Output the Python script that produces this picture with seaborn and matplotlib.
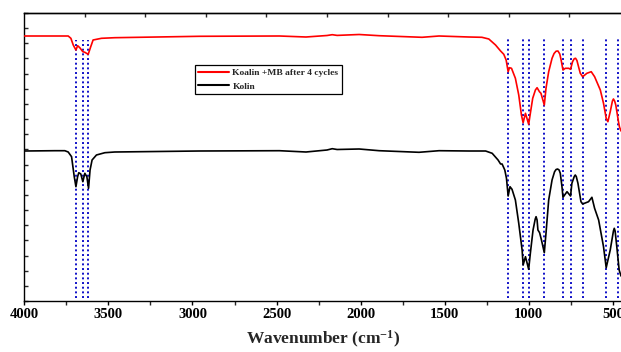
import numpy as np
import pandas as pd
import matplotlib
matplotlib.use("Agg")
import matplotlib.pyplot as plt
import seaborn as sns
from matplotlib.ticker import MultipleLocator, FixedLocator, NullFormatter

# ---------------- data ----------------
series_names = ["Koalin +MB after 4 cycles", "Kolin"]
series_colors = ["#FF0000", "#000000"]

# Kaolin after MB adsorption, 4 cycles (wavenumber cm-1, transmittance a.u.)
wn_mb = [4000, 3818, 3739, 3723, 3709, 3693, 3683, 3670, 3652, 3640, 3620,
         3605, 3591, 3541, 3462, 2958, 2483, 2325, 2200, 2169, 2140, 2009, 1890,
         1635, 1534, 1357, 1279, 1238, 1198, 1168, 1149, 1135, 1123, 1115,
         1103, 1080, 1060, 1044, 1034, 1020, 1001, 991, 977, 961, 951, 937,
         928, 908, 898, 882, 862, 850, 838, 827, 816, 808, 797, 783, 763, 752, 740,
         730, 722, 714, 704, 694, 680, 655, 629, 609, 575, 556, 540, 530, 516, 503, 497,
         490, 483, 467, 461, 452]
t_mb = [265, 265, 265, 262.7, 256, 251, 255.3, 253.3, 249.3, 248.7, 246.7,
        254.3, 261, 262.7, 263.3, 264.7, 265, 264, 265.5, 266.3, 265.6, 266.5, 265.3,
        263.7, 265, 264, 263.7, 262, 256, 250, 246.7, 241, 229.3, 233.3,
        232.7, 222.7, 206, 186, 178.3, 187.7, 176.7, 187.7, 202.7, 211, 213.3, 209.3,
        207.7, 196, 212.7, 229.3, 242.7, 247.5, 249.8, 250, 247, 241, 231, 232.7, 232.7, 231.7, 239.3,
        242.3, 242.7, 240.5, 234, 227.7, 224.3, 227.7, 229.3, 224.3, 211, 197.7, 182.7, 179.3, 189.3, 200, 202,
        200, 196, 179.3, 174, 170]

# Raw kaolin
wn_kaolin = [4000, 3818, 3759, 3739, 3719, 3703, 3693, 3683, 3676, 3664, 3652,
             3640, 3628, 3618, 3609, 3597, 3571, 3521, 3462, 2958, 2483, 2325,
             2200, 2169, 2140, 2009, 1890, 1653, 1534, 1357, 1257, 1218, 1183, 1168, 1159,
             1143, 1133, 1123, 1112, 1100, 1080, 1060, 1040, 1034, 1020, 1001,
             991, 975, 962, 957, 951, 946, 936, 925, 908, 898, 882, 862, 847, 838, 829, 820, 813,
             803, 797, 773, 752, 744, 730, 724, 718, 708, 690, 680, 645, 625, 609, 585,
             556, 540, 516, 497, 492, 487, 477, 463, 452]
t_kaolin = [150, 150.3, 150.3, 149, 144.3, 124.3, 114.3, 124.3, 128.3, 127, 119.3,
            127.7, 124.3, 112.7, 131, 141, 146, 148.3, 149, 150, 150.3, 149,
            151, 152.3, 151.5, 152, 150.3, 148.7, 150.3, 150, 150, 147.7, 141, 137, 137,
            131, 122.7, 105, 114.3, 111.7, 101, 77.7, 51, 36, 44.3, 31.7,
            47.7, 71, 82, 84.3, 81, 71, 68.3, 61, 48.3, 67.7, 101, 121, 129.3, 131.5, 132, 131, 127.7,
            114.3, 103.7, 109.3, 105, 117.7, 124.5, 126, 124.5, 117.7, 99.3, 97, 99.3, 103.7, 92.7, 81,
            54.3, 33.3, 51, 70, 72.7, 70, 54.3, 31, 25]

# Assigned band positions (dotted guide lines), cm-1
band_positions = [3693, 3652, 3620, 1123, 1034, 1001, 908, 797, 752, 680, 540, 467]

x_ticks = [4000, 3500, 3000, 2500, 2000, 1500, 1000, 500]

# ---------------- style ----------------
sns.set_theme(style="ticks")
plt.rcParams['font.family'] = ['Liberation Serif', 'DejaVu Serif']
plt.rcParams['font.weight'] = 'bold'
plt.rcParams['mathtext.fontset'] = 'custom'
plt.rcParams['mathtext.rm'] = 'Liberation Serif:bold'
plt.rcParams['mathtext.bf'] = 'Liberation Serif:bold'
plt.rcParams['mathtext.default'] = 'bf'

df = pd.concat([
    pd.DataFrame({"wn": wn_mb, "t": t_mb, "sample": series_names[0]}),
    pd.DataFrame({"wn": wn_kaolin, "t": t_kaolin, "sample": series_names[1]}),
])

fig = plt.figure(figsize=(6.21, 3.52), dpi=100)
ax = fig.add_axes([24.3 / 621, 1 - 301 / 352, 1 - 24.3 / 621, (301 - 13) / 352])

for b in band_positions:
    ax.vlines(b, 3, 261 if b > 2000 else 263, colors="#1010C8",
              linestyles=(0, (1, 1.4)), linewidth=1.4, zorder=1)

sns.lineplot(data=df, x="wn", y="t", hue="sample",
             palette=dict(zip(series_names, series_colors)),
             estimator=None, linewidth=1.2, ax=ax, zorder=3, legend=True)

ax.set_xlim(4000, 452)
ax.set_ylim(0, 288)

ax.xaxis.set_major_locator(FixedLocator(x_ticks))
ax.xaxis.set_minor_locator(MultipleLocator(250))
ax.set_xticklabels([str(v) for v in x_ticks])
ax.yaxis.set_major_locator(FixedLocator(np.linspace(0, 288, 20)))
ax.yaxis.set_major_formatter(NullFormatter())
ax.set_ylabel("")

ax.tick_params(axis="x", which="major", direction="out", length=3, width=1,
               labelsize=10.5, pad=2, colors="black")
ax.tick_params(axis="x", which="minor", direction="out", length=3, width=1)
ax.tick_params(axis="y", which="major", direction="in", length=3, width=1)
for lab in ax.get_xticklabels():
    lab.set_fontweight("bold")

# top ticks
top = ax.secondary_xaxis("top")
top.set_ticks([4000 - 360 * k for k in range(1, 10)])
top.tick_params(direction="in", length=3, width=1, labeltop=False)
top.xaxis.set_major_formatter(NullFormatter())
top.spines["top"].set_linewidth(1.0)

for side in ["left", "bottom", "top"]:
    ax.spines[side].set_linewidth(1.0)
    ax.spines[side].set_color("black")
ax.spines["right"].set_visible(False)

ax.set_xlabel(r"Wavenumber (cm$^{-1}$)", fontsize=12.5, fontweight="bold", labelpad=5.5)

handles, labels = ax.get_legend_handles_labels()
for h in handles:
    h.set_linewidth(1.5)
leg = ax.legend(handles, labels, loc="upper left",
                bbox_to_anchor=(195 / 621, 1 - 65 / 352), bbox_transform=fig.transFigure,
                frameon=True, fancybox=False, edgecolor="black", framealpha=1,
                prop={"size": 6.8, "weight": "bold", "family": "Liberation Serif"},
                handlelength=3.2, borderpad=0.35, labelspacing=0.55,
                handletextpad=0.4, borderaxespad=0)
leg.get_frame().set_linewidth(0.9)

fig.savefig("out.png", dpi=100)
